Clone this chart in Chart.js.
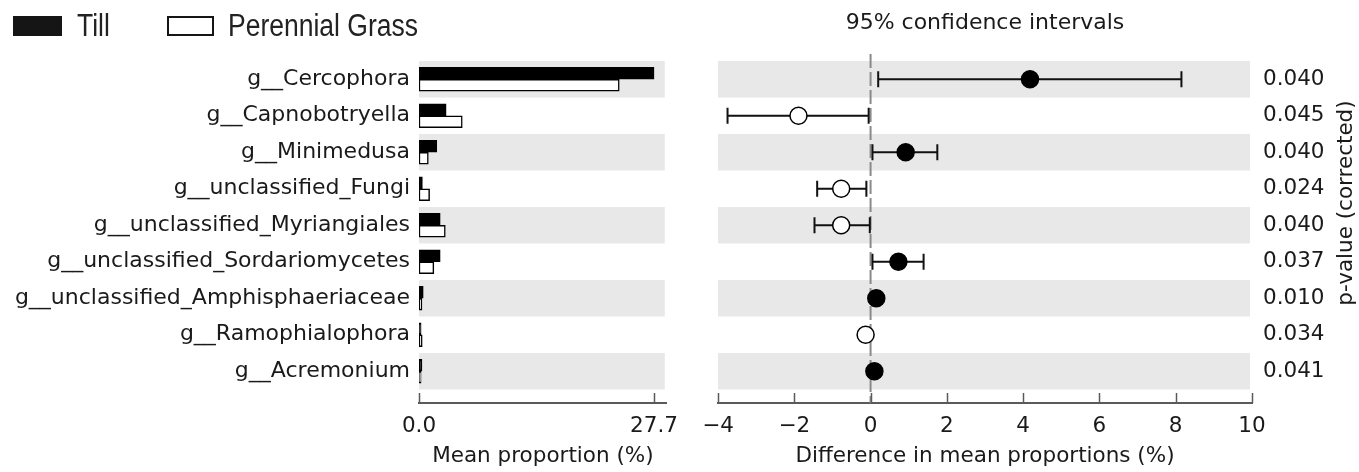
<!DOCTYPE html>
<html>
<head>
<meta charset="utf-8">
<script src="https://cdn.jsdelivr.net/npm/chart.js@4/dist/chart.umd.min.js"></script>
<style>
  html, body { margin: 0; padding: 0; background: #fff; }
  #wrap { position: relative; width: 1359px; height: 472px; overflow: hidden; }
  #left { position: absolute; left: 0; top: 0; }
  #right { position: absolute; left: 690px; top: 0; }
  .key { position: absolute; top: 16px; height: 20px; box-sizing: border-box; }
  .key.till { left: 13px; width: 49px; background: #151515; }
  .key.grass { left: 167px; width: 47px; background: #fff; border: 2px solid #151515; }
  .keytext { position: absolute; top: 10px; font: 31px/31px 'Liberation Sans', sans-serif; color: #222;
             white-space: nowrap; transform: scaleX(0.855); transform-origin: 0 0; }
</style>
</head>
<body>
<div id="wrap">
  <canvas id="left" width="690" height="472"></canvas>
  <canvas id="right" width="669" height="472"></canvas>
  <div class="key till"></div><div class="keytext" style="left:77px">Till</div>
  <div class="key grass"></div><div class="keytext" style="left:228px">Perennial Grass</div>
</div>
<script>
// ── Data ───────────────────────────────────────────────────────────────────
const categories = [
  'g__Cercophora', 'g__Capnobotryella', 'g__Minimedusa', 'g__unclassified_Fungi',
  'g__unclassified_Myriangiales', 'g__unclassified_Sordariomycetes',
  'g__unclassified_Amphisphaeriaceae', 'g__Ramophialophora', 'g__Acremonium'
];
const till  = [27.7, 3.2, 2.1, 0.4, 2.5, 2.5, 0.5, 0.25, 0.35];
const grass = [23.6, 5.1, 1.1, 1.25, 3.1, 1.75, 0.35, 0.38, 0.25];
const diff  = [4.18, -1.89, 0.92, -0.77, -0.77, 0.73, 0.15, -0.13, 0.1];
const ciLow  = [0.2, -3.75, 0.05, -1.4, -1.47, 0.05, 0.05, -0.2, 0.02];
const ciHigh = [8.15, -0.05, 1.75, -0.11, -0.02, 1.39, 0.25, -0.05, 0.18];
const pvals = ['0.040', '0.045', '0.040', '0.024', '0.040', '0.037', '0.010', '0.034', '0.041'];
const meanTicks = [0, 27.7];

// ── Defaults ───────────────────────────────────────────────────────────────
Chart.defaults.font.family = 'DejaVu Sans';
Chart.defaults.font.size = 21.5;
Chart.defaults.color = '#1a1a1a';

const RIGHT_X = 690;
const AXIS = '#5a5a5a';
const rowMin = -0.5, rowMax = 8.87;

// alternating grey row bands
const rowBands = {
  id: 'rowBands',
  beforeDatasetsDraw(chart) {
    const { ctx, chartArea: a, scales: { y } } = chart;
    ctx.save();
    ctx.fillStyle = '#e8e8e8';
    categories.forEach((c, i) => {
      if (i % 2) return;
      const t = y.getPixelForValue(i - 0.5), b = y.getPixelForValue(i + 0.5);
      ctx.fillRect(a.left, t, a.right - a.left - 2, b - t);
    });
    ctx.restore();
  }
};

// matplotlib style inward tick marks
const innerTicks = {
  id: 'innerTicks',
  afterDraw(chart) {
    const { ctx, chartArea: a, scales: { x } } = chart;
    ctx.save();
    ctx.strokeStyle = AXIS;
    ctx.lineWidth = 1.5;
    x.ticks.forEach(t => {
      const px = Math.round(x.getPixelForValue(t.value)) + 0.5;
      ctx.beginPath();
      ctx.moveTo(px, a.bottom);
      ctx.lineTo(px, a.bottom - 10);
      ctx.stroke();
    });
    ctx.restore();
  }
};

// zero line + confidence interval whiskers
const ciBars = {
  id: 'ciBars',
  beforeDatasetsDraw(chart) {
    const { ctx, chartArea: a, scales: { x, y } } = chart;
    ctx.save();
    const x0 = x.getPixelForValue(0);
    ctx.strokeStyle = '#8a8a8a';
    ctx.lineWidth = 2;
    ctx.setLineDash([14, 4]);
    ctx.beginPath();
    ctx.moveTo(x0, 54);
    ctx.lineTo(x0, a.bottom);
    ctx.stroke();
    ctx.setLineDash([]);
    ctx.strokeStyle = '#111';
    ctx.lineWidth = 2;
    categories.forEach((c, i) => {
      const py = y.getPixelForValue(i);
      const l = x.getPixelForValue(ciLow[i]), r = x.getPixelForValue(ciHigh[i]);
      ctx.beginPath();
      ctx.moveTo(l, py); ctx.lineTo(r, py);
      ctx.moveTo(l, py - 8); ctx.lineTo(l, py + 8);
      ctx.moveTo(r, py - 8); ctx.lineTo(r, py + 8);
      ctx.stroke();
    });
    ctx.restore();
  }
};

// rotated p-value axis title
const pTitle = {
  id: 'pTitle',
  afterDraw(chart) {
    const { ctx } = chart;
    ctx.save();
    ctx.translate(1346 - RIGHT_X, 203);
    ctx.rotate(-Math.PI / 2);
    ctx.font = '21.5px "DejaVu Sans"';
    ctx.fillStyle = '#1a1a1a';
    ctx.textAlign = 'center';
    ctx.textBaseline = 'middle';
    ctx.fillText('p-value (corrected)', 0, 0);
    ctx.restore();
  }
};

const rowTicks = s => { s.ticks = categories.map((c, i) => ({ value: i })); };

// ── Mean proportion bars ───────────────────────────────────────────────────
new Chart(document.getElementById('left'), {
  type: 'bar',
  data: {
    datasets: [
      { label: 'Till', data: till.map((v, i) => ({ x: v, y: i })),
        backgroundColor: '#000', borderColor: '#000', borderWidth: 1.5, borderSkipped: false, barThickness: 12 },
      { label: 'Perennial Grass', data: grass.map((v, i) => ({ x: v, y: i })),
        backgroundColor: '#fff', borderColor: '#000', borderWidth: 1.5, borderSkipped: false, barThickness: 12 }
    ]
  },
  options: {
    indexAxis: 'y', responsive: false, animation: false,
    layout: { padding: { top: 61, right: 20, left: 0, bottom: 0 } },
    plugins: { legend: { display: false }, tooltip: { enabled: false } },
    scales: {
      x: {
        type: 'linear', min: 0, max: 29.2,
        grid: { display: false, drawTicks: false },
        border: { display: true, color: AXIS, width: 2 },
        afterBuildTicks: s => { s.ticks = meanTicks.map(v => ({ value: v })); },
        ticks: { padding: 11, callback: v => v.toFixed(1) },
        title: { display: true, text: 'Mean proportion (%)', padding: { top: 0, bottom: 3 } },
        afterFit: s => { s.height = 69; }
      },
      y: {
        type: 'linear', reverse: true, min: rowMin, max: rowMax, offset: false,
        grid: { display: false, drawTicks: false, offset: false },
        border: { display: false },
        afterBuildTicks: rowTicks,
        ticks: { padding: 9, font: { size: 22 }, callback: v => categories[v] },
        afterFit: s => { s.width = 419; }
      }
    }
  },
  plugins: [rowBands, innerTicks]
});

// ── Difference with 95% CI ─────────────────────────────────────────────────
new Chart(document.getElementById('right'), {
  type: 'scatter',
  data: {
    datasets: [{
      data: diff.map((v, i) => ({ x: v, y: i })),
      pointRadius: 8.5,
      pointBackgroundColor: diff.map(v => v > 0 ? '#000' : '#fff'),
      pointBorderColor: '#000',
      pointBorderWidth: 1.5
    }]
  },
  options: {
    responsive: false, animation: false,
    layout: { padding: { top: 0, right: 0, left: 28, bottom: 0 } },
    plugins: {
      legend: { display: false }, tooltip: { enabled: false },
      title: {
        display: true, text: '95% confidence intervals', fullSize: false,
        font: { size: 22, weight: 'normal', lineHeight: 1.2 },
        padding: { top: 10, bottom: 24.6 }, color: '#1a1a1a'
      }
    },
    scales: {
      x: {
        type: 'linear', min: -4, max: 10,
        grid: { display: false, drawTicks: false },
        border: { display: true, color: AXIS, width: 2 },
        ticks: { stepSize: 2, padding: 11, callback: v => v < 0 ? '\u2212' + Math.abs(v) : String(v) },
        title: { display: true, text: 'Difference in mean proportions (%)', padding: { top: 0, bottom: 3 } },
        afterFit: s => { s.height = 69; }
      },
      y: { type: 'linear', reverse: true, min: rowMin, max: rowMax, display: false },
      yp: {
        type: 'linear', position: 'right', reverse: true, min: rowMin, max: rowMax,
        grid: { display: false, drawTicks: false },
        border: { display: false },
        afterBuildTicks: rowTicks,
        ticks: { padding: 11, callback: v => pvals[v] },
        afterFit: s => { s.width = 107; }
      }
    }
  },
  plugins: [rowBands, ciBars, innerTicks, pTitle]
});
</script>
</body>
</html>
